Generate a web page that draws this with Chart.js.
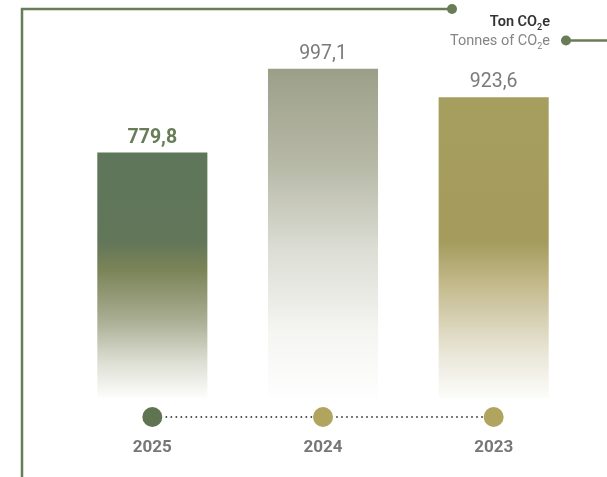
<!DOCTYPE html>
<html>
<head>
<meta charset="utf-8">
<title>Ton CO2e</title>
<script src="https://cdn.jsdelivr.net/npm/chart.js@4.4.1/dist/chart.umd.min.js"></script>
<style>
    html, body { margin: 0; padding: 0; background: #fff; }
    #wrap { position: relative; width: 607px; height: 477px; }
</style>
</head>
<body>
<div id="wrap"><canvas id="co2Chart"></canvas></div>
<script>
var years = ['2025', '2024', '2023'];
var co2 = [779.8, 997.1, 923.6];
var valueLabels = ['779,8', '997,1', '923,6'];
var unitVi = 'Ton CO';
var unitEn = 'Tonnes of CO';

var lineGreen = '#687c57';
var dotColors = ['#5f7552', '#b0a45e', '#b0a45e'];
var labelColors = ['#687c57', '#7a7a7a', '#7a7a7a'];
var labelWeights = ['bold', 'normal', 'normal'];

// colour stops for each bar, top of bar -> bottom of chart area
var barStops = [
    [[0, '#5e765a'], [0.36, '#627659'], [0.48, '#7b8458'], [0.68, '#a9ad92'], [0.85, '#dcddd2'], [1, '#fdfdfc']],
    [[0, '#9c9f88'], [0.3, '#b8baa8'], [0.55, '#dcddd4'], [0.8, '#f5f5f2'], [1, '#fefefe']],
    [[0, '#a69e5e'], [0.48, '#a49b5d'], [0.62, '#c3b98b'], [0.85, '#e9e6d8'], [1, '#fcfcfa']]
];

function barGradient(context) {
    var chart = context.chart;
    var area = chart.chartArea;
    var i = context.dataIndex;
    if (!area || i === undefined) return dotColors[0];
    var top = chart.scales.y.getPixelForValue(co2[i]);
    var g = chart.ctx.createLinearGradient(0, top, 0, area.bottom);
    barStops[i].forEach(function(s) { g.addColorStop(s[0], s[1]); });
    return g;
}

function textWithSub(ctx, text, weight, x, y) {
    // right aligned "text" + subscript 2 + "e"
    var mainFont = weight + ' 14.5px Roboto';
    var subFont = weight + ' 9px Roboto';
    ctx.font = mainFont;
    var wMain = ctx.measureText(text).width;
    var wE = ctx.measureText('e').width;
    ctx.font = subFont;
    var wSub = ctx.measureText('2').width;
    var start = x - wMain - wSub - wE;
    ctx.fillText('2', start + wMain, y + 4);
    ctx.font = mainFont;
    ctx.fillText(text, start, y);
    ctx.fillText('e', start + wMain + wSub, y);
}

var decorPlugin = {
    id: 'decor',
    beforeDatasetsDraw: function(chart) {
        var ctx = chart.ctx;
        ctx.save();
        // frame lines
        ctx.strokeStyle = lineGreen;
        ctx.lineWidth = 2.5;
        ctx.beginPath();
        ctx.moveTo(22, 477);
        ctx.lineTo(22, 9);
        ctx.lineTo(452, 9);
        ctx.stroke();
        ctx.beginPath();
        ctx.moveTo(566, 40.5);
        ctx.lineTo(607, 40.5);
        ctx.stroke();
        ctx.fillStyle = lineGreen;
        ctx.beginPath();
        ctx.arc(452, 9, 5, 0, Math.PI * 2);
        ctx.fill();
        ctx.beginPath();
        ctx.arc(566, 40.5, 5, 0, Math.PI * 2);
        ctx.fill();

        // unit text
        ctx.textBaseline = 'alphabetic';
        ctx.fillStyle = '#333333';
        textWithSub(ctx, unitVi, '600', 550, 26);
        ctx.fillStyle = '#858585';
        textWithSub(ctx, unitEn, 'normal', 550, 45);
        ctx.restore();
    },
    afterDatasetsDraw: function(chart) {
        var ctx = chart.ctx;
        var meta = chart.getDatasetMeta(0);
        var xs = meta.data.map(function(b) { return b.x; });
        var dotY = 417;
        ctx.save();

        // dotted timeline
        ctx.fillStyle = '#444444';
        for (var k = 0; k < xs.length - 1; k++) {
            for (var x = xs[k] + 14; x < xs[k + 1] - 11; x += 5) {
                ctx.beginPath();
                ctx.arc(x, dotY, 0.95, 0, Math.PI * 2);
                ctx.fill();
            }
        }
        xs.forEach(function(x, i) {
            ctx.fillStyle = dotColors[i];
            ctx.beginPath();
            ctx.arc(x, dotY, 10, 0, Math.PI * 2);
            ctx.fill();
        });

        // year labels
        ctx.textAlign = 'center';
        ctx.textBaseline = 'middle';
        ctx.fillStyle = '#777777';
        ctx.font = 'bold 17px Roboto';
        xs.forEach(function(x, i) { ctx.fillText(years[i], x, 448); });

        // values above bars
        ctx.textBaseline = 'alphabetic';
        meta.data.forEach(function(bar, i) {
            ctx.fillStyle = labelColors[i];
            ctx.font = labelWeights[i] + ' 19.5px Roboto';
            ctx.fillText(valueLabels[i], bar.x, bar.y - 10);
        });
        ctx.restore();
    }
};

var chart = new Chart(document.getElementById('co2Chart').getContext('2d'), {
    type: 'bar',
    data: {
        labels: years,
        datasets: [{
            data: co2,
            backgroundColor: barGradient,
            borderWidth: 0,
            barPercentage: 0.645,
            categoryPercentage: 1
        }]
    },
    options: {
        responsive: true,
        maintainAspectRatio: false,
        animation: false,
        layout: { padding: { top: 0, left: 67, right: 28, bottom: 79 } },
        plugins: {
            legend: { display: false },
            tooltip: { enabled: false }
        },
        scales: {
            x: { display: false },
            y: { display: false, min: 142, max: 1176 }
        }
    },
    plugins: [decorPlugin]
});
</script>
</body>
</html>
